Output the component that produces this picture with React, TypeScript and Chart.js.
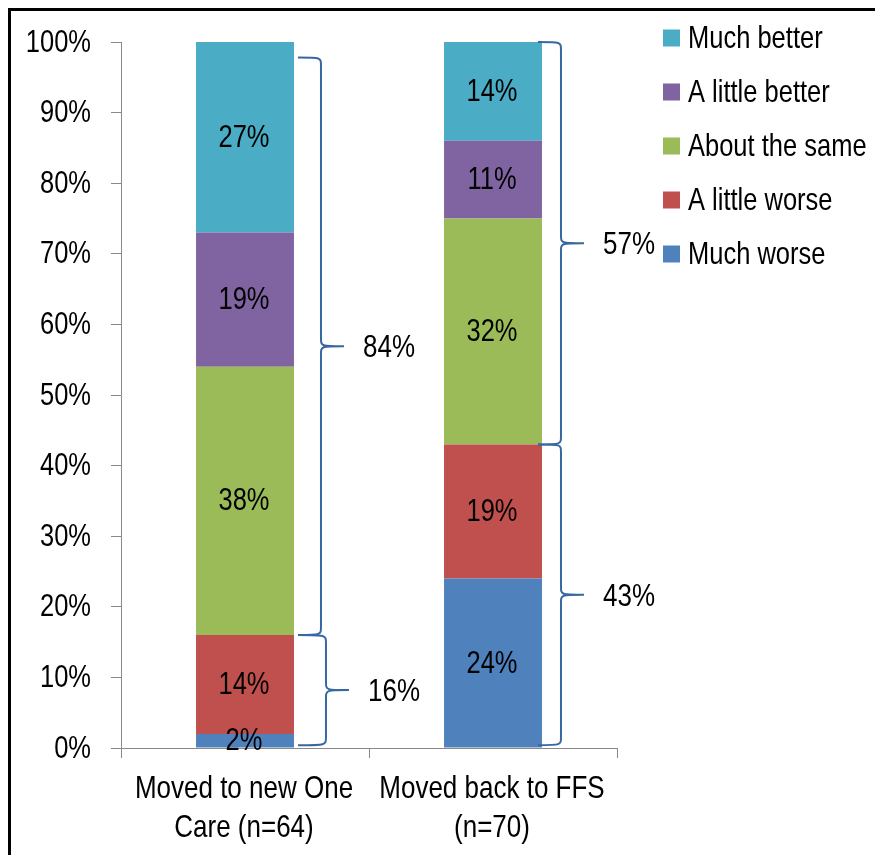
import React, { useEffect, useRef } from "react";
import { Chart, registerables } from "chart.js";

Chart.register(...registerables);

const categories: string[][] = [
  ["Moved to new One", "Care (n=64)"],
  ["Moved back to FFS", "(n=70)"],
];

const seriesNames = ["Much worse", "A little worse", "About the same", "A little better", "Much better"];
const muchWorse = [2, 24];
const littleWorse = [14, 19];
const aboutSame = [38, 32];
const littleBetter = [19, 11];
const muchBetter = [27, 14];
const seriesValues = [muchWorse, littleWorse, aboutSame, littleBetter, muchBetter];
const seriesColors = ["#4F81BD", "#C0504D", "#9BBB59", "#8064A2", "#4BACC6"];

const yTickValues = [0, 10, 20, 30, 40, 50, 60, 70, 80, 90, 100];

const braceCategory = [0, 0, 1, 1];
const braceFrom = [16, 0.4, 43, 0.4];
const braceTo = [97.8, 16, 100, 43];
const braceLabels = ["84%", "16%", "57%", "43%"];

const FONT_FAMILY = "'Liberation Sans', Arial, sans-serif";
const FONT_SIZE = 25.5;
const CAT_FONT_SIZE = 26;
const BRACE_FONT_SIZE = 26;
const STRETCH_Y = 1.22;
const BRACE_COLOR = "#3868A2";
const AXIS_COLOR = "#898989";
// horizontal nudges of each brace (style only)
const BRACE_NUDGE = [0, 5, -8, -8];

function drawText(
  ctx: CanvasRenderingContext2D,
  text: string,
  x: number,
  y: number,
  align: CanvasTextAlign,
  size: number = FONT_SIZE
) {
  ctx.save();
  ctx.font = `${size}px ${FONT_FAMILY}`;
  ctx.fillStyle = "#000";
  ctx.textAlign = align;
  ctx.textBaseline = "middle";
  ctx.translate(x, y);
  ctx.scale(1, STRETCH_Y);
  ctx.fillText(text, 0, 0);
  ctx.restore();
}

const overlayPlugin = {
  id: "overlay",
  afterDatasetsDraw(chart: any) {
    const ctx = chart.ctx as CanvasRenderingContext2D;
    const yScale = chart.scales.y;
    const xScale = chart.scales.x;
    const area = chart.chartArea;
    ctx.save();
    // y tick labels
    yTickValues.forEach((v) => {
      const py = yScale.getPixelForValue(v);
      drawText(ctx, `${v}%`, area.left - 30, py + 1, "right");
    });
    // x category labels
    categories.forEach((lines, i) => {
      const px = xScale.getPixelForTick(i);
      lines.forEach((line, li) => {
        drawText(ctx, line, px - 1, area.bottom + 41 + li * 39, "center", CAT_FONT_SIZE);
      });
    });
    // data labels
    chart.data.datasets.forEach((ds: any, di: number) => {
      const meta = chart.getDatasetMeta(di);
      meta.data.forEach((el: any, i: number) => {
        const v = ds.data[i];
        const cy = (el.y + el.base) / 2;
        drawText(ctx, `${v}%`, el.x - 1, cy + 1, "center");
      });
    });
    // braces
    const meta0 = chart.getDatasetMeta(0);
    ctx.strokeStyle = BRACE_COLOR;
    ctx.lineWidth = 2;
    ctx.lineJoin = "round";
    braceCategory.forEach((ci, bi) => {
      const el: any = meta0.data[ci];
      const right = el.x + el.width / 2 + BRACE_NUDGE[bi];
      const x0 = right + 4 - (bi === 1 ? 5 : 0);
      const x1 = right + 27;
      const x2 = right + 50;
      const yTop = yScale.getPixelForValue(braceTo[bi]);
      const yBot = yScale.getPixelForValue(braceFrom[bi]);
      const mid = (yTop + yBot) / 2;
      const r = 8;
      ctx.beginPath();
      ctx.moveTo(x0, yTop);
      ctx.bezierCurveTo(x1, yTop, x1, yTop, x1, yTop + r);
      ctx.lineTo(x1, mid - r);
      ctx.bezierCurveTo(x1, mid, x1, mid, x2, mid);
      ctx.moveTo(x2, mid);
      ctx.bezierCurveTo(x1, mid, x1, mid, x1, mid + r);
      ctx.lineTo(x1, yBot - r);
      ctx.bezierCurveTo(x1, yBot, x1, yBot, x0, yBot);
      ctx.stroke();
      drawText(ctx, braceLabels[bi], x2 + 19, mid + 2, "left", BRACE_FONT_SIZE);
    });
    // legend (reverse order)
    const lx = area.right + 46;
    const ly = area.top - 4;
    for (let k = 0; k < seriesNames.length; k++) {
      const si = seriesNames.length - 1 - k;
      const cy = ly + k * 54;
      ctx.fillStyle = seriesColors[si];
      ctx.fillRect(lx, cy - 8.5, 17, 17);
      drawText(ctx, seriesNames[si], lx + 25, cy + 1, "left");
    }
    ctx.restore();
  },
};

export default function App() {
  const ref = useRef<HTMLCanvasElement | null>(null);
  useEffect(() => {
    document.body.style.overflow = "hidden";
    const canvas = ref.current;
    if (!canvas) return;
    const chart = new Chart(canvas, {
      type: "bar",
      data: {
        labels: categories,
        datasets: seriesNames.map((name, i) => ({
          label: name,
          data: seriesValues[i],
          backgroundColor: seriesColors[i],
          borderWidth: 0,
          categoryPercentage: 1,
          barPercentage: 0.395,
        })),
      },
      options: {
        responsive: false,
        animation: false,
        events: [],
        layout: { padding: { top: 31, right: 266, left: 0, bottom: 0 } },
        plugins: {
          legend: { display: false },
          tooltip: { enabled: false },
        },
        scales: {
          x: {
            stacked: true,
            grid: {
              display: true,
              drawOnChartArea: false,
              drawTicks: true,
              tickLength: 10,
              color: AXIS_COLOR,
              lineWidth: 1,
            },
            border: { display: true, color: AXIS_COLOR, width: 1 },
            ticks: {
              color: "rgba(0,0,0,0)",
              padding: 8,
              maxRotation: 0,
              autoSkip: false,
              font: { family: FONT_FAMILY, size: 1, lineHeight: 1 },
            },
            afterFit(scale: any) {
              scale.height = 107;
            },
          },
          y: {
            stacked: true,
            min: 0,
            max: 100,
            afterBuildTicks(scale: any) {
              scale.ticks = yTickValues.map((v) => ({ value: v }));
            },
            grid: {
              display: true,
              drawOnChartArea: false,
              drawTicks: true,
              tickLength: 10,
              color: AXIS_COLOR,
              lineWidth: 1,
            },
            border: { display: true, color: AXIS_COLOR, width: 1 },
            ticks: {
              color: "rgba(0,0,0,0)",
              padding: 20,
              callback: (v: any) => `${v}%`,
              font: { family: FONT_FAMILY, size: 1, lineHeight: 1 },
            },
            afterFit(scale: any) {
              scale.width = 110;
            },
          },
        },
      },
      plugins: [overlayPlugin],
    });
    return () => chart.destroy();
  }, []);
  return (
    <div
      style={{
        width: 875,
        height: 847,
        boxSizing: "border-box",
        borderTop: "3px solid #000",
        borderLeft: "3px solid #000",
        background: "#fff",
      }}
    >
      <canvas ref={ref} width={872} height={844} style={{ display: "block" }} />
    </div>
  );
}
